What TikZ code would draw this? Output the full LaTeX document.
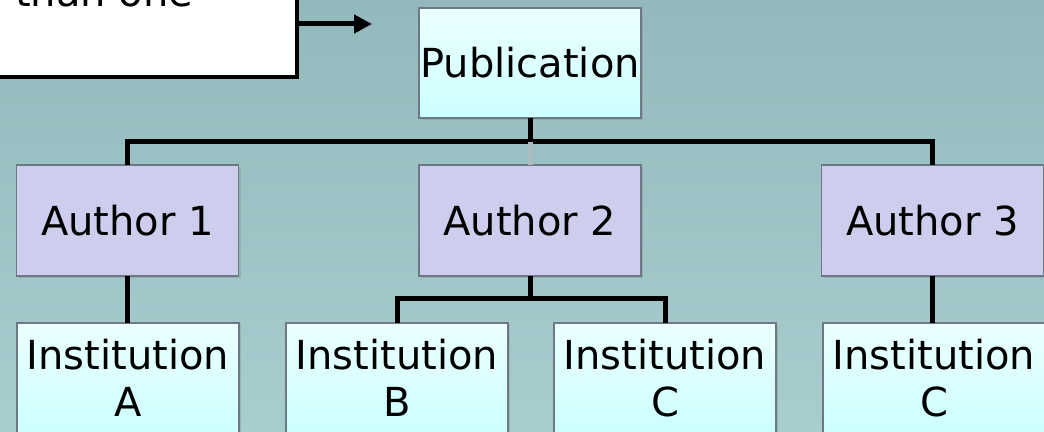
\documentclass[tikz,border=0pt]{standalone}
\usepackage{fontspec}
\setmainfont{DejaVu Sans}
\usetikzlibrary{arrows.meta,shadows}

\definecolor{bgtop}{RGB}{147,185,188}
\definecolor{bgbottom}{RGB}{167,205,207}
\definecolor{authorfill}{RGB}{205,206,237}
\definecolor{insttop}{RGB}{236,255,255}
\definecolor{instbottom}{RGB}{204,255,255}
\definecolor{boxline}{RGB}{110,120,132}
\definecolor{faint}{RGB}{170,188,191}

\begin{document}
\begin{tikzpicture}[x=1pt, y=1pt,
		font=\fontsize{40}{47}\selectfont,
		lead/.style={black, line width=5pt},
		card/.style={draw=boxline, line width=1.4pt, minimum width=222pt, inner sep=0pt, outer sep=0pt,
			drop shadow={shadow xshift=2pt, shadow yshift=-2pt, opacity=0.3}},
		author/.style={card, fill=authorfill, minimum height=111pt},
		inst/.style={card, top color=insttop, bottom color=instbottom, minimum height=110pt, align=center}]
		\useasboundingbox (0,0) rectangle (1044,431);
		\clip (0,0) rectangle (1044,431);
		\shade[top color=bgtop, bottom color=bgbottom] (0,0) rectangle (1044,431);
		% note box, cut by the top edge
		\node[draw, line width=3.5pt, fill=white, minimum width=320pt, minimum height=110pt, inner sep=0pt, outer sep=0pt, anchor=south east,
			drop shadow={shadow xshift=2pt, shadow yshift=-2pt, opacity=0.3}] (note) at (297,354){};
		\node[anchor=base west, inner sep=0pt] (notetext) at (15,424){than one};
		\coordinate (tip) at (372,407);
		\draw[black, line width=5pt, -{Triangle[length=18pt, width=18pt]}] (note.east |- tip) -- (tip);
		% tree
		\node[inst] (pub) at (530,368){Publication};
		\node[author] (a1) at (127.5,210.5){Author 1};
		\node[author] (a2) at (530,210.5){Author 2};
		\node[author] (a3) at (932.5,210.5){Author 3};
		\node[inst] (ia) at (128,53){Institution\\A};
		\node[inst] (ib) at (397,53){Institution\\B};
		\node[inst] (ic) at (665,53){Institution\\C};
		\node[inst] (id) at (934,53){Institution\\C};
		\coordinate (bus) at (530,289);
		\coordinate (fan) at (530,132);
		\draw[lead] (pub.south) -- (bus);
		\draw[lead] (a1.north) |- (bus) -| (a3.north);
		\draw[faint, line width=5pt] (bus) -- (a2.north);
		\draw[lead] (a1.south) -- (a1.south |- ia.north);
		\draw[lead] (a2.south) -- (fan);
		\draw[lead] (ib.north) |- (fan) -| (ic.north);
		\draw[lead] (a3.south) -- (a3.south |- id.north);
	\end{tikzpicture}
\end{document}
